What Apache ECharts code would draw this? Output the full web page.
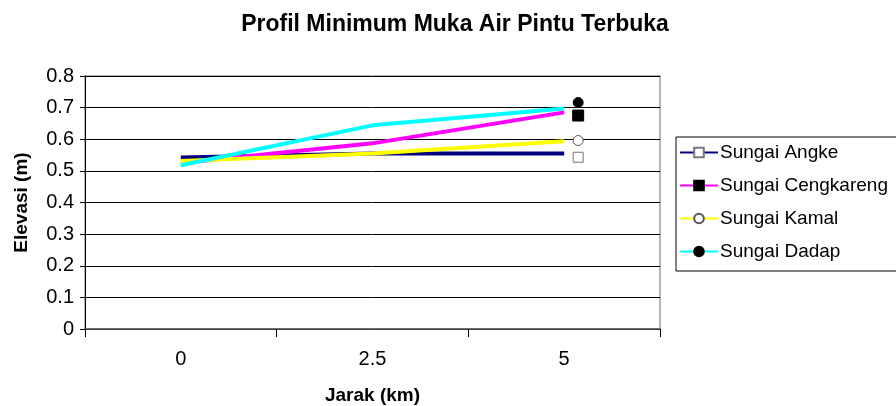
<!DOCTYPE html>
<html>
<head>
<meta charset="utf-8">
<script src="https://cdn.jsdelivr.net/npm/echarts@6/dist/echarts.min.js"></script>
<style>
  html, body { margin: 0; padding: 0; background: #fff; }
  #main { width: 896px; height: 406px; }
</style>
</head>
<body>
<div id="main"></div>
<script>
// data
const jarak = ['0', '2.5', '5'];
const angke = [0.542, 0.555, 0.555];
const cengkareng = [0.525, 0.587, 0.685];
const kamal = [0.531, 0.555, 0.594];
const dadap = [0.518, 0.644, 0.697];
// lone markers drawn just right of the 5 km point
const angkeTitik = [null, null, 0.543];
const cengkarengTitik = [null, null, 0.675];
const kamalTitik = [null, null, 0.596];
const dadapTitik = [null, null, 0.716];
const yTicks = [0, 0.1, 0.2, 0.3, 0.4, 0.5, 0.6, 0.7, 0.8];

const font = 'Liberation Sans, Arial, sans-serif';
const chart = echarts.init(document.getElementById('main'));

const lineSeries = (name, data, color, symbol, fill, border, size) => ({
  name: name,
  type: 'line',
  data: data,
  symbol: symbol,
  symbolSize: size,
  showSymbol: false,
  z: 3,
  lineStyle: { color: color, width: 4 },
  itemStyle: { color: fill, borderColor: border, borderWidth: 1, opacity: 1 },
  emphasis: { disabled: true }
});

const dotSeries = (name, data, symbol, fill, border, size) => ({
  name: name,
  type: 'scatter',
  data: data,
  symbol: symbol,
  symbolSize: size,
  symbolOffset: [14, 0],
  z: 4,
  itemStyle: { color: fill, borderColor: border, borderWidth: 1, opacity: 1 },
  emphasis: { disabled: true }
});

const option = {
  animation: false,
  backgroundColor: '#fff',
  title: {
    text: 'Profil Minimum Muka Air Pintu Terbuka',
    left: 450,
    textAlign: 'center',
    top: 8,
    textStyle: { fontFamily: font, fontSize: 23, fontWeight: 'bold', color: '#000' }
  },
  grid: {
    left: 85, right: 236, top: 76, bottom: 77,
    outerBoundsMode: 'none',
    containLabel: false,
    show: true, borderColor: '#a0a0a0', borderWidth: 1.5
  },
  legend: {
    orient: 'vertical',
    left: 676,
    top: 137,
    padding: [6, 60, 10, 3],
    itemGap: 14,
    itemWidth: 38,
    itemHeight: 12,
    borderColor: '#000',
    borderWidth: 1,
    data: ['Sungai Angke', 'Sungai Cengkareng', 'Sungai Kamal', 'Sungai Dadap'],
    textStyle: { fontFamily: font, fontSize: 19, color: '#000', padding: [0, 0, 0, -3] }
  },
  xAxis: {
    type: 'category',
    data: jarak,
    boundaryGap: true,
    name: 'Jarak (km)',
    nameLocation: 'middle',
    nameGap: 57,
    nameTextStyle: { fontFamily: font, fontSize: 19, fontWeight: 'bold', color: '#000' },
    axisLine: { lineStyle: { color: '#555', width: 1.5 } },
    axisTick: { show: true, length: 8, lineStyle: { color: '#000' } },
    axisLabel: { fontFamily: font, fontSize: 20, color: '#000', margin: 20 },
    splitLine: { show: false }
  },
  yAxis: {
    type: 'value',
    min: 0,
    max: 0.8,
    interval: 0.1,
    name: 'Elevasi (m)',
    nameLocation: 'middle',
    nameGap: 54,
    nameTextStyle: { fontFamily: font, fontSize: 19, fontWeight: 'bold', color: '#000' },
    axisLine: { show: true, lineStyle: { color: '#000', width: 1 } },
    axisTick: { show: true, length: 5, lineStyle: { color: '#000' } },
    axisLabel: {
      fontFamily: font, fontSize: 20, color: '#000', margin: 11,
      formatter: v => {
        const t = yTicks.find(k => Math.abs(k - v) < 1e-9);
        return t === undefined ? '' : String(t);
      }
    },
    splitLine: { show: true, lineStyle: { color: '#000', width: 1 } }
  },
  series: [
    lineSeries('Sungai Angke', angke, '#000080', 'rect', '#fff', '#777', 9),
    lineSeries('Sungai Cengkareng', cengkareng, '#ff00ff', 'rect', '#000', '#000', 9),
    lineSeries('Sungai Kamal', kamal, '#ffff00', 'circle', '#fff', '#555', 9),
    lineSeries('Sungai Dadap', dadap, '#00ffff', 'circle', '#000', '#000', 9),
    dotSeries('Angke titik', angkeTitik, 'rect', '#fff', '#777', 10),
    dotSeries('Cengkareng titik', cengkarengTitik, 'rect', '#000', '#000', 11),
    dotSeries('Kamal titik', kamalTitik, 'circle', '#fff', '#555', 10),
    dotSeries('Dadap titik', dadapTitik, 'circle', '#000', '#000', 10)
  ]
};

chart.setOption(option);
</script>
</body>
</html>
